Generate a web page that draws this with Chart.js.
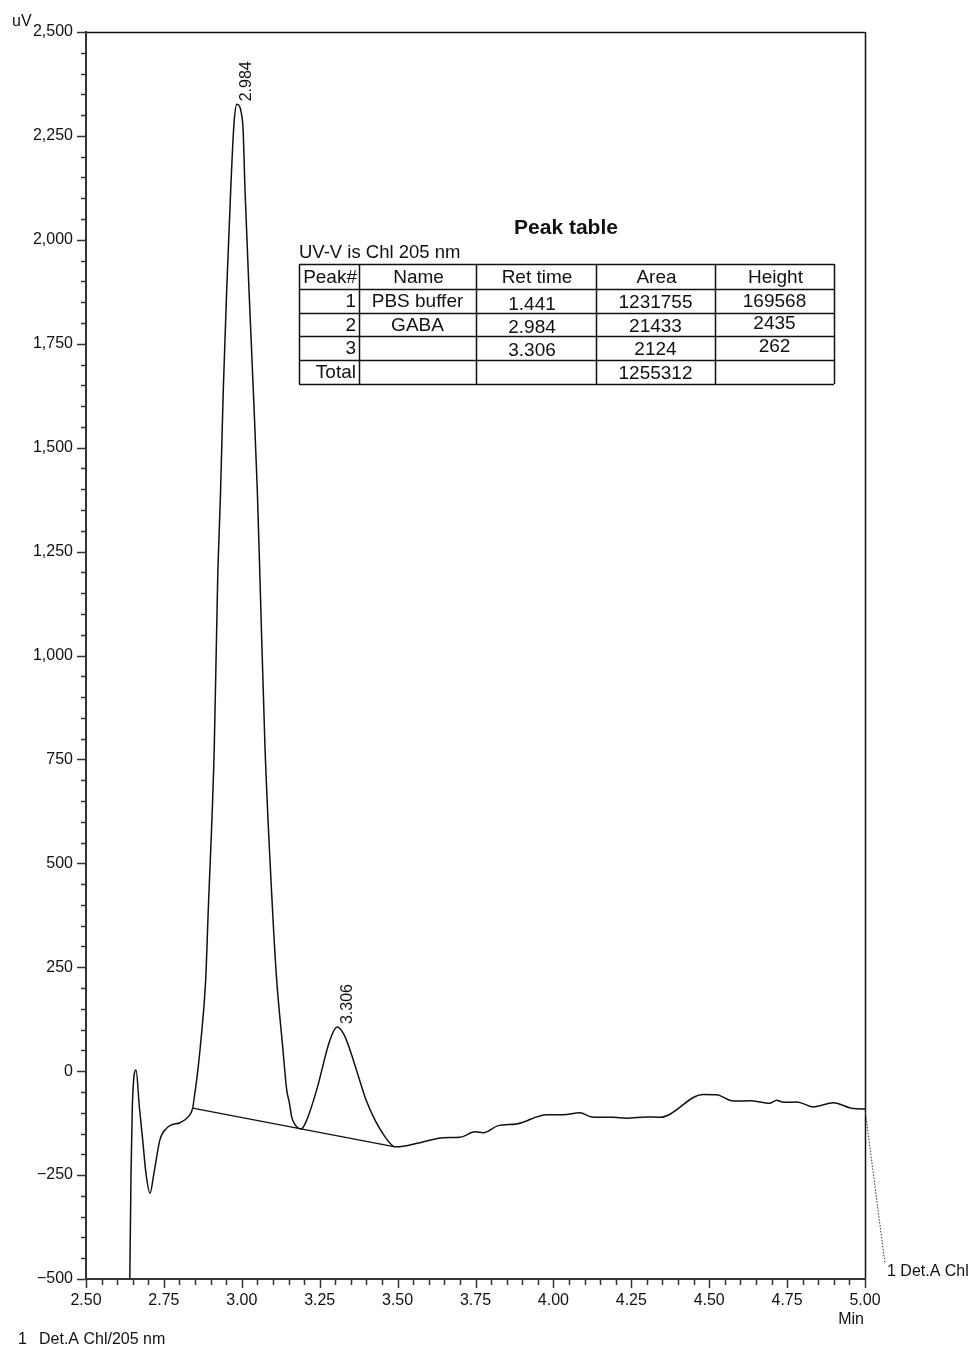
<!DOCTYPE html>
<html>
<head>
<meta charset="utf-8">
<title>Chromatogram – Det.A Chl/205 nm</title>
<script src="https://cdn.jsdelivr.net/npm/chart.js@4.4.1/dist/chart.umd.min.js"></script>
<style>
  html, body { margin: 0; padding: 0; background: #ffffff; }
  canvas { display: block; }
</style>
</head>
<body>
<canvas id="chrom" width="968" height="1347"></canvas>
<script>
// Detector trace: retention time (min) and signal (uV)
const timeMin = [
  2.640, 2.6445, 2.6487, 2.6605, 2.6711, 2.682, 2.6925, 2.7054, 2.718, 2.737,
  2.759, 2.775, 2.8017, 2.828, 2.8424, 2.848, 2.857, 2.867, 2.884, 2.892,
  2.9117, 2.9226, 2.932, 2.9406, 2.9515, 2.9644, 2.975, 2.984, 3.003, 3.0103,
  3.0231, 3.0369, 3.0497, 3.0584, 3.0744, 3.0992, 3.112, 3.1313, 3.1441, 3.1524,
  3.1601, 3.170, 3.1909, 3.2082, 3.2403, 3.283, 3.306, 3.330, 3.3472, 3.3729,
  3.3986, 3.4275, 3.4596, 3.4852, 3.495, 3.5719, 3.6467, 3.7003, 3.7484, 3.775,
  3.8232, 3.8822, 3.9785, 4.0317, 4.0853, 4.1229, 4.1922, 4.2352, 4.2994, 4.3421,
  4.4811, 4.524, 4.5773, 4.6309, 4.6951, 4.7166, 4.7378, 4.7808, 4.8341, 4.8983,
  4.9625, 5.000
];
const signalUV = [
  -540, -245, -85, 3, -85, -166, -246, -294, -246, -166,
  -137, -129, -124, -110, -89, -60, -10, 60, 219, 380,
  781, 1182, 1398, 1639, 1879, 2120, 2280, 2326, 2280, 2120,
  1879, 1639, 1398, 1182, 780, 380, 219, 58, -45, -75,
  -110, -128, -139, -118, -45, 75, 106, 85, 51, -9,
  -69, -118, -158, -180, -182, -172, -160, -159, -146, -148,
  -131, -127, -105, -105, -100, -110, -111, -113, -110, -111,
  -56, -57, -72, -71, -77, -70, -75, -74, -86, -76,
  -90, -91
];

// Integration baseline drawn under peaks 2 and 3
const baselineTime = [2.8424, 3.4917];
const baselineUV = [-89, -182];

// Peak retention-time labels
const peakRetTimes = [2.984, 3.306];
const peakLabels = ['2.984', '3.306'];

// Axis ranges and tick spacing
const xRange = [2.5, 5.0];
const yRange = [-500, 2500];
const xMajorStep = 0.25, xMinorStep = 0.05;
const yMajorStep = 250, yMinorStep = 50;

// Peak table
const tableTitle = 'Peak table';
const tableCaption = 'UV-V is Chl 205 nm';
const tableColumns = ['Peak#', 'Name', 'Ret time', 'Area', 'Height'];
const tablePeakNo = ['1', '2', '3', 'Total'];
const tableName = ['PBS buffer', 'GABA', '', ''];
const tableRetTime = ['1.441', '2.984', '3.306', ''];
const tableArea = ['1231755', '21433', '2124', '1255312'];
const tableHeight = ['169568', '2435', '262', ''];

const FONT = '"Liberation Sans", Arial, Helvetica, sans-serif';
const INK = '#111111';

function fmtY(v) {
  const s = Math.abs(v).toLocaleString('en-US');
  return v < 0 ? '\u2212' + s : s;
}

// Frame, tick marks, annotations and peak table
const decorations = {
  id: 'decorations',
  afterDraw(chart) {
    const ctx = chart.ctx;
    const xs = chart.scales.x, ys = chart.scales.y;
    const area = chart.chartArea;
    ctx.save();

    // top and right frame
    ctx.strokeStyle = INK;
    ctx.lineWidth = 1.5;
    ctx.beginPath();
    ctx.moveTo(area.left, area.top + 0.5);
    ctx.lineTo(area.right, area.top + 0.5);
    ctx.moveTo(area.right + 0.5, area.top);
    ctx.lineTo(area.right + 0.5, area.bottom);
    ctx.stroke();

    // left and bottom axes
    ctx.strokeStyle = '#333333';
    ctx.lineWidth = 2;
    ctx.beginPath();
    ctx.moveTo(area.left, area.top - 1);
    ctx.lineTo(area.left, area.bottom);
    ctx.lineTo(area.right + 1, area.bottom);
    ctx.stroke();

    // tick marks
    ctx.lineWidth = 1.5;
    ctx.beginPath();
    const nY = Math.round((yRange[1] - yRange[0]) / yMinorStep);
    for (let i = 0; i <= nY; i++) {
      const v = yRange[0] + i * yMinorStep;
      const p = Math.round(ys.getPixelForValue(v)) + 0.5;
      const len = (i % (yMajorStep / yMinorStep) === 0) ? 9 : 5;
      ctx.moveTo(area.left - len, p);
      ctx.lineTo(area.left, p);
    }
    const nX = Math.round((xRange[1] - xRange[0]) / xMinorStep);
    for (let i = 0; i <= nX; i++) {
      const v = xRange[0] + i * xMinorStep;
      const p = Math.round(xs.getPixelForValue(v)) + 0.5;
      const len = (i % Math.round(xMajorStep / xMinorStep) === 0) ? 9 : 6;
      ctx.moveTo(p, area.bottom);
      ctx.lineTo(p, area.bottom + len);
    }
    ctx.stroke();

    // axis unit labels
    ctx.fillStyle = INK;
    ctx.font = '16px ' + FONT;
    ctx.textBaseline = 'middle';
    ctx.textAlign = 'left';
    ctx.fillText('uV', 12, 22);
    ctx.textAlign = 'right';
    ctx.fillText('Min', area.right - 1, 1320);

    // detector note
    ctx.textAlign = 'left';
    ctx.fillText('1', 18, 1340);
    ctx.fillText('Det.A Chl/205 nm', 39, 1340);

    // trace end marker
    const meta = chart.getDatasetMeta(0);
    const last = meta.data[meta.data.length - 1];
    ctx.strokeStyle = '#333333';
    ctx.lineWidth = 1;
    ctx.setLineDash([1.5, 1.5]);
    ctx.beginPath();
    ctx.moveTo(last.x, last.y);
    ctx.lineTo(area.right + 20, 1264);
    ctx.stroke();
    ctx.setLineDash([]);
    ctx.fillText('1 Det.A Chl', area.right + 22, 1272);

    // peak retention-time labels, written upward beside each apex
    ctx.font = '16px ' + FONT;
    peakRetTimes.forEach((t, k) => {
      const idx = timeMin.indexOf(t);
      const pt = meta.data[idx];
      ctx.save();
      ctx.translate(pt.x + 10, pt.y - 3);
      ctx.rotate(-Math.PI / 2);
      ctx.textAlign = 'left';
      ctx.textBaseline = 'middle';
      ctx.fillText(peakLabels[k], 0, 0);
      ctx.restore();
    });

    // peak table
    const colX = [299, 359, 476, 596, 715, 834];
    const rowY = [264, 289, 313, 336, 360, 384];
    ctx.font = 'bold 21px ' + FONT;
    ctx.textAlign = 'center';
    ctx.fillText(tableTitle, 566, 228);
    ctx.font = '18.5px ' + FONT;
    ctx.textAlign = 'left';
    ctx.fillText(tableCaption, 299, 253);

    ctx.strokeStyle = INK;
    ctx.lineWidth = 1.5;
    ctx.beginPath();
    rowY.forEach(y => { ctx.moveTo(colX[0], y + 0.5); ctx.lineTo(colX[5], y + 0.5); });
    colX.forEach(x => { ctx.moveTo(x + 0.5, rowY[0]); ctx.lineTo(x + 0.5, rowY[5]); });
    ctx.stroke();

    ctx.font = '19px ' + FONT;
    const mid = r => (rowY[r] + rowY[r + 1]) / 2 + 1;
    ctx.textAlign = 'right';
    ctx.fillText(tableColumns[0], colX[1] - 2, mid(0));
    ctx.textAlign = 'center';
    for (let c = 1; c < 5; c++) {
      ctx.fillText(tableColumns[c], (colX[c] + colX[c + 1]) / 2 + 1, mid(0));
    }
    const retShift = [3, 2, 2, 0], heightShift = [0, -2, -2, 0];
    for (let r = 0; r < 4; r++) {
      const y = mid(r + 1);
      ctx.textAlign = 'right';
      ctx.fillText(tablePeakNo[r], colX[1] - 3, y);
      ctx.textAlign = 'center';
      ctx.fillText(tableName[r], (colX[1] + colX[2]) / 2, y);
      ctx.fillText(tableRetTime[r], (colX[2] + colX[3]) / 2 - 4, y + retShift[r]);
      ctx.fillText(tableArea[r], (colX[3] + colX[4]) / 2, y + 1);
      ctx.fillText(tableHeight[r], (colX[4] + colX[5]) / 2, y + heightShift[r]);
    }
    ctx.restore();
  }
};

Chart.defaults.font.family = FONT;
Chart.defaults.color = INK;

new Chart(document.getElementById('chrom'), {
  type: 'line',
  data: {
    datasets: [
      {
        label: 'Det.A Chl/205 nm',
        data: timeMin.map((t, i) => ({ x: t, y: signalUV[i] })),
        borderColor: INK,
        borderWidth: 1.5,
        pointRadius: 0,
        cubicInterpolationMode: 'monotone',
        fill: false
      },
      {
        label: 'Baseline',
        data: baselineTime.map((t, i) => ({ x: t, y: baselineUV[i] })),
        borderColor: INK,
        borderWidth: 1.4,
        pointRadius: 0,
        tension: 0,
        fill: false
      }
    ]
  },
  options: {
    responsive: false,
    devicePixelRatio: 1,
    animation: false,
    layout: { padding: { top: 32, right: 103, left: 0, bottom: 0 } },
    plugins: { legend: { display: false }, tooltip: { enabled: false } },
    scales: {
      x: {
        type: 'linear',
        min: xRange[0], max: xRange[1],
        grid: { display: false, drawTicks: false },
        border: { display: false },
        ticks: {
          stepSize: xMajorStep,
          padding: 12,
          font: { size: 16 },
          color: INK,
          maxRotation: 0,
          autoSkip: false,
          callback: v => Number(v).toFixed(2)
        },
        afterFit: s => { s.height = 68; }
      },
      y: {
        type: 'linear',
        min: yRange[0], max: yRange[1],
        grid: { display: false, drawTicks: false },
        border: { display: false },
        ticks: {
          stepSize: yMajorStep,
          padding: 13,
          font: { size: 16 },
          color: INK,
          autoSkip: false,
          callback: v => fmtY(v)
        },
        afterFit: s => { s.width = 86; }
      }
    }
  },
  plugins: [decorations]
});
</script>
</body>
</html>
